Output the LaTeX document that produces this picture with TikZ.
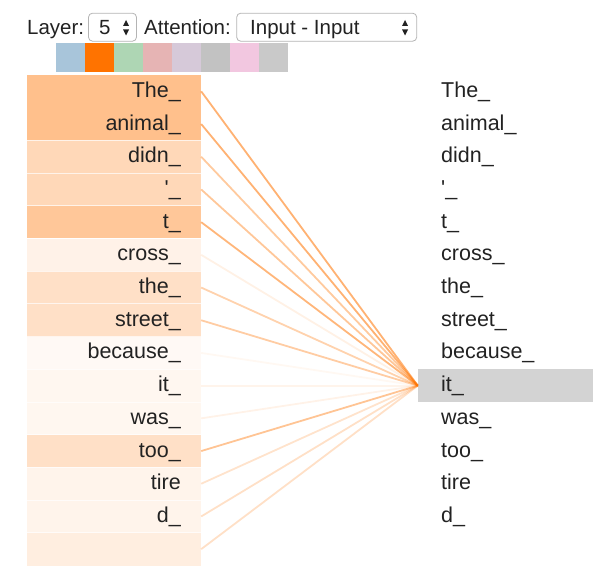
\documentclass[tikz,border=0pt]{standalone}
\usepackage{fontspec}
\setmainfont{Liberation Sans}[Ligatures=TeXOff]
\definecolor{att}{HTML}{FF7300}
\definecolor{txt}{HTML}{222222}
\definecolor{selborder}{HTML}{B4B4B4}
\definecolor{hl}{HTML}{D3D3D3}
\definecolor{swA}{HTML}{A8C5DA}
\definecolor{swB}{HTML}{FF7300}
\definecolor{swC}{HTML}{AED6B4}
\definecolor{swD}{HTML}{E6B4B4}
\definecolor{swE}{HTML}{D6C9D9}
\definecolor{swF}{HTML}{C2C2C2}
\definecolor{swG}{HTML}{F2C7E0}
\definecolor{swH}{HTML}{C9C9C9}
\begin{document}
\begin{tikzpicture}[x=1pt,y=-1pt,
  hdr/.style={font=\fontsize{20.5}{22}\selectfont, text=txt, inner sep=0pt},
  word/.style={font=\fontsize{21.5}{23}\selectfont, text=txt, inner sep=0pt},
  dropbox/.style={draw=selborder, line width=0.8pt, rounded corners=4pt, fill=white, minimum height=28pt, inner sep=0pt},
  swatch/.style={minimum width=29pt, minimum height=28.5pt, inner sep=0pt, draw=none},
  rowbox/.style={minimum width=174pt, minimum height=32.7pt, inner sep=0pt, draw=none},
  rowsep/.style={draw=white, line width=0.5pt, opacity=0.7},
  attline/.style={line width=1.8pt, att},
  updown/.style={fill=txt, draw=none}
]
\useasboundingbox (0,0) rectangle (613,580);

% header
\node[hdr, anchor=base west] (layer) at (27,35) {Layer:};
\node[dropbox, minimum width=48pt] (sel1) at (112.5,27.2) {};
\node[hdr, anchor=base west] (sel1t) at (99,35) {5};
\fill[updown] (123,26) -- (129,26) -- (126,20) -- cycle;
\fill[updown] (123,29.5) -- (129,29.5) -- (126,35.5) -- cycle;
\node[hdr, anchor=base west] (attlab) at (144,35) {Attention:};
\node[dropbox, minimum width=180pt] (sel2) at (326.7,27.2) {};
\node[hdr, anchor=base west] (sel2t) at (250,35) {Input - Input};
\fill[updown] (402,26) -- (408,26) -- (405,20) -- cycle;
\fill[updown] (402,29.5) -- (408,29.5) -- (405,35.5) -- cycle;

% swatches
\foreach \c [count=\k from 0] in {swA,swB,swC,swD,swE,swF,swG,swH}{
  \node[swatch, fill=\c] (sw\k) at ({56+29*\k+14.5},57.5) {};
}

% left rows
\foreach \fa [count=\i from 0] in {45,45,28,28,40,9,22,22,4,6,6,22,8,8,12}{
  \node[rowbox, fill=att!\fa!white] (L\i) at (114,{75+32.7*\i+16.35}) {};
}
\foreach \i in {2,...,14}{
  \draw[rowsep] (L\i.north west) -- (L\i.north east);
}

% highlight of the attending token
\node[minimum width=175pt, minimum height=32.7pt, inner sep=0pt, fill=hl] (itbox) at (505.5,{75+32.7*9+16.35}) {};

% attention lines
\foreach \la [count=\i from 0] in {0.55,0.55,0.38,0.4,0.52,0.1,0.32,0.36,0.05,0.08,0.09,0.42,0.2,0.22,0.22}{
  \draw[attline, opacity=\la] (L\i.east) -- (itbox.west);
}

% left words
\foreach \w [count=\i from 0] in {{The\_},{animal\_},{didn\_},{'\_},{t\_},{cross\_},{the\_},{street\_},{because\_},{it\_},{was\_},{too\_},{tire},{d\_}}{
  \node[word, anchor=base east] (Lt\i) at (181,{75+32.7*\i+16.35+6}) {\w};
}

% right words
\foreach \w [count=\i from 0] in {{The\_},{animal\_},{didn\_},{'\_},{t\_},{cross\_},{the\_},{street\_},{because\_},{it\_},{was\_},{too\_},{tire},{d\_}}{
  \node[word, anchor=base west] (R\i) at (441,{75+32.7*\i+16.35+6}) {\w};
}
\end{tikzpicture}
\end{document}
